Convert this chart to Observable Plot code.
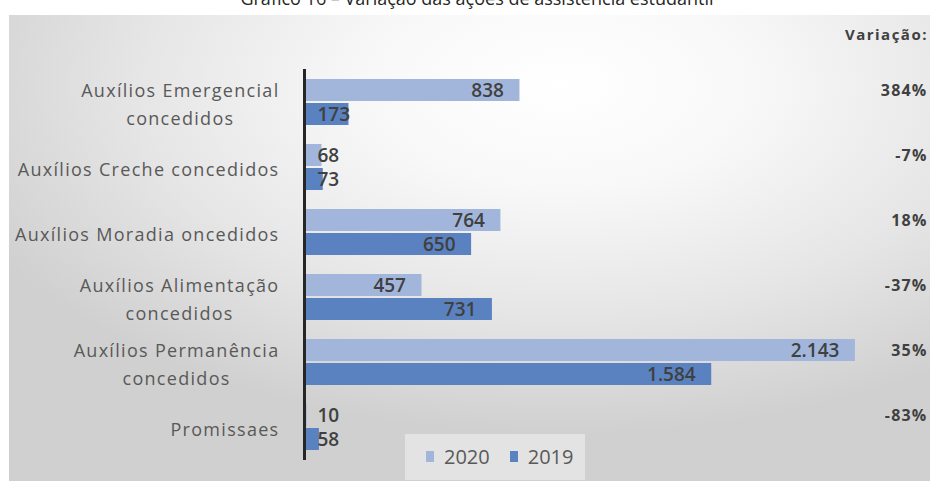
<!DOCTYPE html>
<html>
<head>
<meta charset="utf-8">
<script src="https://cdn.jsdelivr.net/npm/d3@7"></script>
<script src="https://cdn.jsdelivr.net/npm/@observablehq/plot@0.6"></script>
<style>
html, body { margin: 0; padding: 0; background: #ffffff; }
body { width: 937px; height: 488px; position: relative; overflow: hidden; font-family: "Open Sans", sans-serif; }
#panel { position: absolute; left: 9px; top: 15px; width: 921px; height: 466px;
  background: radial-gradient(ellipse 70% 75% at 60% 15%, #ffffff 0%, #f8f8f8 30%, #e6e6e6 65%, #d0d0d0 100%); }
#title { position: absolute; top: -11px; left: 477px; transform: translateX(-50%); white-space: nowrap;
  font-size: 18px; line-height: 18px; color: #262626; }
#chart { position: absolute; left: 0; top: 0; }
#variacao { position: absolute; right: 9px; top: 27px; font-weight: 700; font-size: 15px; line-height: 15px;
  letter-spacing: 1.5px; color: #404040; }
#legendbox { position: absolute; left: 405px; top: 434px; width: 180px; height: 46px; background: rgba(255,255,255,0.4); }
#legend { position: absolute; left: 426px; top: 440px; }
</style>
</head>
<body>
<div id="panel"></div>
<div id="title">Gráfico 16 – Variação das ações de assistência estudantil</div>
<div id="chart"></div>
<div id="variacao">Variação:</div>
<div id="legendbox"></div>
<div id="legend"></div>
<script>
const categorias = [
  "Auxílios Emergencial\nconcedidos",
  "Auxílios Creche concedidos",
  "Auxílios Moradia oncedidos",
  "Auxílios Alimentação\nconcedidos",
  "Auxílios Permanência\nconcedidos",
  "Promissaes"
];
const anos = ["2020", "2019"];
const valores2020 = [838, 68, 764, 457, 2143, 10];
const valores2019 = [173, 73, 650, 731, 1584, 58];
const variacao = ["384%", "-7%", "18%", "-37%", "35%", "-83%"];
const cores = ["#a2b6dc", "#5a82c1"];

const dados = categorias.flatMap((c, i) => [
  {categoria: c, ano: "2020", valor: valores2020[i]},
  {categoria: c, ano: "2019", valor: valores2019[i]}
]);
const rotulosVar = categorias.map((c, i) => ({categoria: c, ano: "2020", texto: variacao[i]}));
const fmt = d3.formatLocale({decimal: ",", thousands: ".", grouping: [3], currency: ["R$", ""]}).format(",d");
const limiar = 200;

const chart = Plot.plot({
  width: 937,
  height: 488,
  marginTop: 70,
  marginBottom: 29,
  marginLeft: 304,
  marginRight: 16,
  style: {background: "transparent", fontFamily: '"Open Sans", sans-serif', overflow: "visible"},
  x: {domain: [0, 2400], axis: null},
  y: {domain: anos, axis: null, paddingInner: 0.083, paddingOuter: 0.36},
  fy: {domain: categorias, axis: null, padding: 0.02},
  color: {domain: anos, range: cores},
  marks: [
    Plot.barX(dados, {fy: "categoria", y: "ano", x: "valor", fill: "ano"}),
    Plot.ruleX([0], {stroke: "#262626", strokeWidth: 3, insetTop: -1, insetBottom: -1}),
    Plot.text(dados.filter(d => d.valor >= limiar), {
      fy: "categoria", y: "ano", x: "valor", text: d => fmt(d.valor),
      textAnchor: "end", dx: -16, fontSize: 19, fontWeight: 600, fill: "#404040"
    }),
    Plot.text(dados.filter(d => d.valor < limiar), {
      fy: "categoria", y: "ano", frameAnchor: "left", text: d => fmt(d.valor),
      textAnchor: "start", dx: 13, fontSize: 19, fontWeight: 600, fill: "#404040"
    }),
    Plot.text(categorias, {
      fy: d => d, text: d => d, frameAnchor: "left", dx: -25, textAnchor: "end",
      lineHeight: 1.556, fontSize: 18, fill: "#595959"
    }),
    Plot.text(rotulosVar, {
      fy: "categoria", y: "ano", text: "texto", frameAnchor: "right", textAnchor: "end",
      dx: 6, fontSize: 16, fontWeight: 700, fill: "#404040"
    })
  ]
});
document.getElementById("chart").appendChild(chart);

const catFlat = categorias.map(c => c.replace(/\n/g, ""));
chart.querySelectorAll("text").forEach(t => {
  const content = t.textContent;
  if (variacao.includes(content)) {
    t.style.letterSpacing = "1.2px";
  } else if (catFlat.includes(content)) {
    t.style.letterSpacing = "1.3px";
    const spans = t.querySelectorAll("tspan");
    if (spans.length > 1) {
      // block right-aligned, lines centered within the block
      const bb = t.getBBox();
      const right = bb.x + bb.width;
      const w = Math.max(...Array.from(spans, s => s.getComputedTextLength()));
      t.setAttribute("text-anchor", "middle");
      spans.forEach(s => s.setAttribute("x", right - w / 2));
    }
  }
});

const leg = Plot.legend({
  color: {domain: anos, range: cores},
  legend: "swatches",
  swatchWidth: 8,
  swatchHeight: 11,
  style: {fontFamily: '"Open Sans", sans-serif', fontSize: "20px", color: "#595959"}
});
document.getElementById("legend").appendChild(leg);
</script>
</body>
</html>
